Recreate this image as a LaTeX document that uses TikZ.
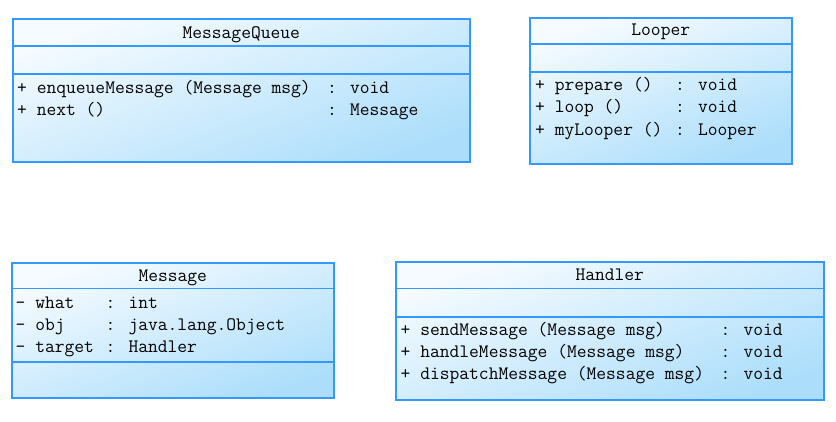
\documentclass[tikz,border=0pt]{standalone}
\usepackage{fontspec}
\usepackage{tikz}
\usetikzlibrary{calc}

\definecolor{umlblue}{HTML}{3399FF}
\definecolor{umltop}{HTML}{F6FBFF}
\definecolor{umlbottom}{HTML}{ACDEFB}

\tikzset{
	classbox/.style={draw=umlblue, line width=1.5pt, top color=umltop, bottom color=umlbottom, shading angle=20, anchor=north west, inner sep=0pt},
	classline/.style={umlblue, line width=1.3pt},
	title/.style={font=\ttfamily\fontsize{19}{22}\selectfont, inner sep=0pt, anchor=base},
	member/.style={title, anchor=base west}
}

\begin{document}
\begin{tikzpicture}[x=1pt, y=-1pt]
			\useasboundingbox (0, 0) rectangle (836, 421);
			% MessageQueue
			\node[classbox, minimum width=457, minimum height=143] (mq) at (12, 18) {};
			\draw[classline] ($(mq.north west) + (0, 28)$) -- ($(mq.north east) + (0, 28)$);
			\draw[classline] ($(mq.north west) + (0, 56)$) -- ($(mq.north east) + (0, 56)$);
			\node[title] (mqname) at ($(mq.north) + (0, 20)$) {MessageQueue};
			\node[member] (mqop1) at (17, 93) {+ enqueueMessage (Message msg)};
			\node[member] (mqop1t) at (327, 93) {: void};
			\node[member] (mqop2) at (17, 115) {+ next ()};
			\node[member] (mqop2t) at (327, 115) {: Message};
			% Looper
			\node[classbox, minimum width=262, minimum height=146] (lp) at (529, 17) {};
			\draw[classline] ($(lp.north west) + (0, 27)$) -- ($(lp.north east) + (0, 27)$);
			\draw[classline] ($(lp.north west) + (0, 55)$) -- ($(lp.north east) + (0, 55)$);
			\node[title] (lpname) at ($(lp.north) + (0, 18.5)$) {Looper};
			\node[member] (lpop1) at (535, 90) {+ prepare ()};
			\node[member] (lpop1t) at (675, 90) {: void};
			\node[member] (lpop2) at (535, 112) {+ loop ()};
			\node[member] (lpop2t) at (675, 112) {: void};
			\node[member] (lpop3) at (535, 135) {+ myLooper ()};
			\node[member] (lpop3t) at (675, 135) {: Looper};
			% Message
			\node[classbox, minimum width=322, minimum height=135] (msg) at (11, 262) {};
			\draw[classline] ($(msg.north west) + (0, 26.5)$) -- ($(msg.north east) + (0, 26.5)$);
			\draw[classline] ($(msg.north west) + (0, 100)$) -- ($(msg.north east) + (0, 100)$);
			\node[title] (msgname) at ($(msg.north) + (0, 19)$) {Message};
			\node[member] (msgat1) at (15.5, 308) {- what};
			\node[member] (msgat1t) at (105.5, 308) {: int};
			\node[member] (msgat2) at (15.5, 330) {- obj};
			\node[member] (msgat2t) at (105.5, 330) {: java.lang.Object};
			\node[member] (msgat3) at (15.5, 352) {- target};
			\node[member] (msgat3t) at (105.5, 352) {: Handler};
			% Handler
			\node[classbox, minimum width=428, minimum height=138] (hd) at (395, 261) {};
			\draw[classline] ($(hd.north west) + (0, 27.5)$) -- ($(hd.north east) + (0, 27.5)$);
			\draw[classline] ($(hd.north west) + (0, 56)$) -- ($(hd.north east) + (0, 56)$);
			\node[title] (hdname) at ($(hd.north) + (0, 19)$) {Handler};
			\node[member] (hdop1) at (400.5, 335) {+ sendMessage (Message msg)};
			\node[member] (hdop1t) at (720.5, 335) {: void};
			\node[member] (hdop2) at (400.5, 357) {+ handleMessage (Message msg)};
			\node[member] (hdop2t) at (720.5, 357) {: void};
			\node[member] (hdop3) at (400.5, 379) {+ dispatchMessage (Message msg)};
			\node[member] (hdop3t) at (720.5, 379) {: void};
		\end{tikzpicture}
\end{document}
